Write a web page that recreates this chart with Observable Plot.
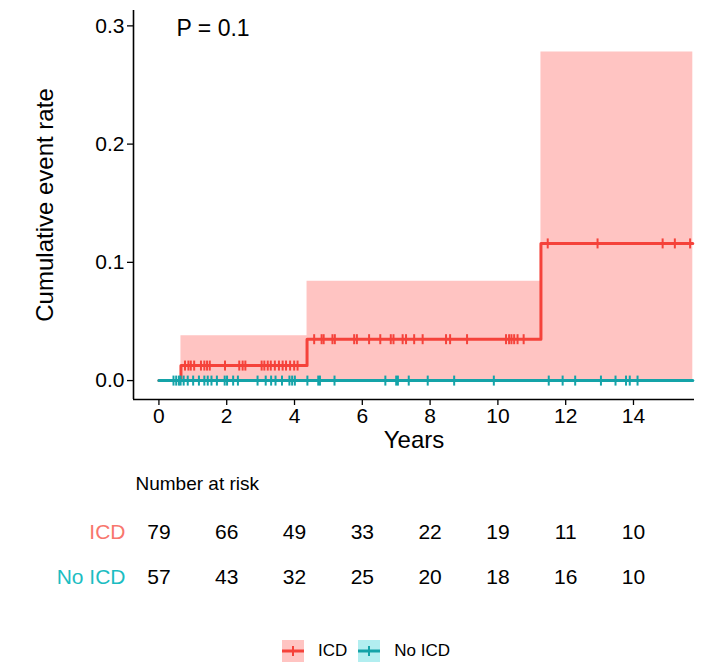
<!DOCTYPE html>
<html><head><meta charset="utf-8">
<script src="https://cdn.jsdelivr.net/npm/d3@7"></script>
<script src="https://cdn.jsdelivr.net/npm/@observablehq/plot@0.6"></script>
<style>
body{margin:0;background:#fff;font-family:"Liberation Sans",Arial,sans-serif;}
#wrap{position:relative;width:703px;height:662px;overflow:hidden;}
#chart,#risk{position:absolute;left:0;}
#chart{top:0;}
#risk{top:455px;}
#legend{position:absolute;left:282px;top:640px;display:flex;align-items:center;font-size:17px;color:#000;}
#legend .item{display:flex;align-items:center;margin-right:11px;}
#legend svg{display:block;margin-right:14px;}
</style></head><body><div id="wrap"><div id="chart"></div><div id="risk"></div><div id="legend"></div></div>
<script>
// ---- data ----
const groups = ["ICD", "No ICD"];
const lineColors = {"ICD": "#F5423A", "No ICD": "#14A3A8"};
const labelColors = {"ICD": "#F8766D", "No ICD": "#1CBDC2"};
const ribbonColors = {"ICD": "#FFC4C2", "No ICD": "#B2EEF0"};

const icdTimes = [0, 0.65, 4.37, 11.27, 15.75];
const icdRate  = [0, 0.0127, 0.035, 0.116, 0.116];
const icdUpper = [0, 0.038, 0.084, 0.278, 0.278];
const icdLower = [0, 0, 0, 0, 0];

const noIcdTimes = [0, 15.75];
const noIcdRate  = [0, 0];

const icdCensor = [0.77, 0.87, 0.94, 1.04, 1.24, 1.34, 1.42, 1.50, 1.95, 2.37, 2.47, 2.55, 3.03, 3.11, 3.21, 3.30, 3.42, 3.54, 3.65, 3.75, 3.87, 3.99, 4.09,
  4.58, 4.80, 4.86, 5.12, 5.19, 5.76, 5.84, 6.20, 6.53, 6.84, 6.92, 7.19, 7.29, 7.53, 7.78, 8.47, 8.59, 9.09, 10.24, 10.33, 10.40, 10.48, 10.58, 10.76,
  11.47, 12.94, 14.86, 15.22, 15.67];
const noIcdCensor = [0.43, 0.51, 0.59, 0.64, 0.73, 0.85, 1.01, 1.18, 1.34, 1.44, 1.55, 1.71, 1.94, 2.01, 2.19, 2.33, 2.91, 3.15, 3.31, 3.44, 3.63, 3.85, 3.93, 4.01,
  4.38, 4.70, 4.75, 5.18, 6.68, 7.00, 7.05, 7.37, 7.93, 8.71, 9.88, 11.50, 11.91, 12.28, 13.04, 13.47, 13.78, 13.89, 14.12];

const riskTimes = [0, 2, 4, 6, 8, 10, 12, 14];
const icdRisk   = [79, 66, 49, 33, 22, 19, 11, 10];
const noIcdRisk = [57, 43, 32, 25, 20, 18, 16, 10];

const xTicks = [0, 2, 4, 6, 8, 10, 12, 14];
const yTicks = [0, 0.1, 0.2, 0.3];
const xDomain = [-0.75, 15.8];
const yDomain = [-0.016, 0.313];
const xLabel = "Years";
const yLabel = "Cumulative event rate";
const pText = "P = 0.1";
const riskTitle = "Number at risk";

// ---- derived tables ----
const icdData = icdTimes.map((t, i) => ({t, v: icdRate[i], lo: icdLower[i], hi: icdUpper[i]}));
const noIcdData = noIcdTimes.map((t, i) => ({t, v: noIcdRate[i]}));
function stepAt(times, vals, t) { let v = vals[0]; for (let i = 0; i < times.length; i++) if (times[i] <= t) v = vals[i]; return v; }
const icdCensorData = icdCensor.map(t => ({t, v: stepAt(icdTimes, icdRate, t)}));
const noIcdCensorData = noIcdCensor.map(t => ({t, v: stepAt(noIcdTimes, noIcdRate, t)}));

const vbar = {draw(ctx, size) { const h = Math.sqrt(size / Math.PI); ctx.moveTo(0, -h); ctx.lineTo(0, h); }};
const font = "Liberation Sans, Arial, sans-serif";

const chart = Plot.plot({
  width: 703, height: 455, marginLeft: 133, marginRight: 9, marginTop: 10, marginBottom: 56,
  style: {fontFamily: font, fontSize: "21px", color: "#000", background: "#fff", overflow: "visible"},
  x: {domain: xDomain},
  y: {domain: yDomain},
  marks: [
    Plot.areaY(icdData, {x: "t", y1: "lo", y2: "hi", curve: "step-after", fill: ribbonColors["ICD"]}),
    Plot.line(icdData, {x: "t", y: "v", curve: "step-after", stroke: lineColors["ICD"], strokeWidth: 3}),
    Plot.dot(icdCensorData, {x: "t", y: "v", symbol: vbar, r: 5, stroke: lineColors["ICD"], fill: "none", strokeWidth: 2}),
    Plot.line(noIcdData, {x: "t", y: "v", curve: "step-after", stroke: lineColors["No ICD"], strokeWidth: 3}),
    Plot.dot(noIcdCensorData, {x: "t", y: "v", symbol: vbar, r: 5, stroke: lineColors["No ICD"], fill: "none", strokeWidth: 2}),
    Plot.ruleX([xDomain[0]], {stroke: "#000", strokeWidth: 1.6}),
    Plot.ruleY([yDomain[0]], {stroke: "#000", strokeWidth: 1.6}),
    Plot.axisX({ticks: xTicks, tickSize: 6, tickPadding: 3, label: null, fontSize: 21, strokeWidth: 1.3}),
    Plot.axisY({ticks: yTicks, tickFormat: d3.format(".1f"), tickSize: 6, tickPadding: 3, label: null, fontSize: 21, strokeWidth: 1.3}),
    Plot.text([yLabel], {text: d => d, frameAnchor: "left", textAnchor: "middle", rotate: -90, dx: -88, fontSize: 24}),
    Plot.text([xLabel], {text: d => d, frameAnchor: "bottom", dy: 48, fontSize: 24}),
    Plot.text([pText], {text: d => d, frameAnchor: "top-left", textAnchor: "start", dx: 43, dy: 9, fontSize: 23})
  ]
});
document.getElementById("chart").append(chart);

const riskData = [
  ...riskTimes.map((t, i) => ({t, g: "ICD", n: icdRisk[i]})),
  ...riskTimes.map((t, i) => ({t, g: "No ICD", n: noIcdRisk[i]}))
];
const risk = Plot.plot({
  width: 703, height: 145, marginLeft: 133, marginRight: 9, marginTop: 77, marginBottom: 23,
  style: {fontFamily: font, color: "#000", background: "transparent", overflow: "visible"},
  x: {domain: xDomain, axis: null},
  y: {type: "point", domain: groups, axis: null, padding: 0},
  marks: [
    Plot.text(riskData, {x: "t", y: "g", text: "n", fontSize: 21, fill: "#000"}),
    ...groups.map(g => Plot.text([g], {y: d => d, text: d => d, frameAnchor: "left", textAnchor: "end", dx: -8, fontSize: 21, fill: labelColors[g]})),
    Plot.text([riskTitle], {text: d => d, frameAnchor: "top-left", textAnchor: "start", dx: 2, dy: -56, fontSize: 19})
  ]
});
document.getElementById("risk").append(risk);

// legend
const leg = document.getElementById("legend");
groups.forEach(g => {
  const item = document.createElement("div"); item.className = "item";
  item.innerHTML = `<svg width="22" height="22"><rect width="22" height="22" fill="${ribbonColors[g]}"/>` +
    `<line x1="0" x2="22" y1="11" y2="11" stroke="${lineColors[g]}" stroke-width="3"/>` +
    `<line x1="11" x2="11" y1="6" y2="16" stroke="${lineColors[g]}" stroke-width="2"/></svg><span>${g}</span>`;
  leg.append(item);
});
</script></body></html>
